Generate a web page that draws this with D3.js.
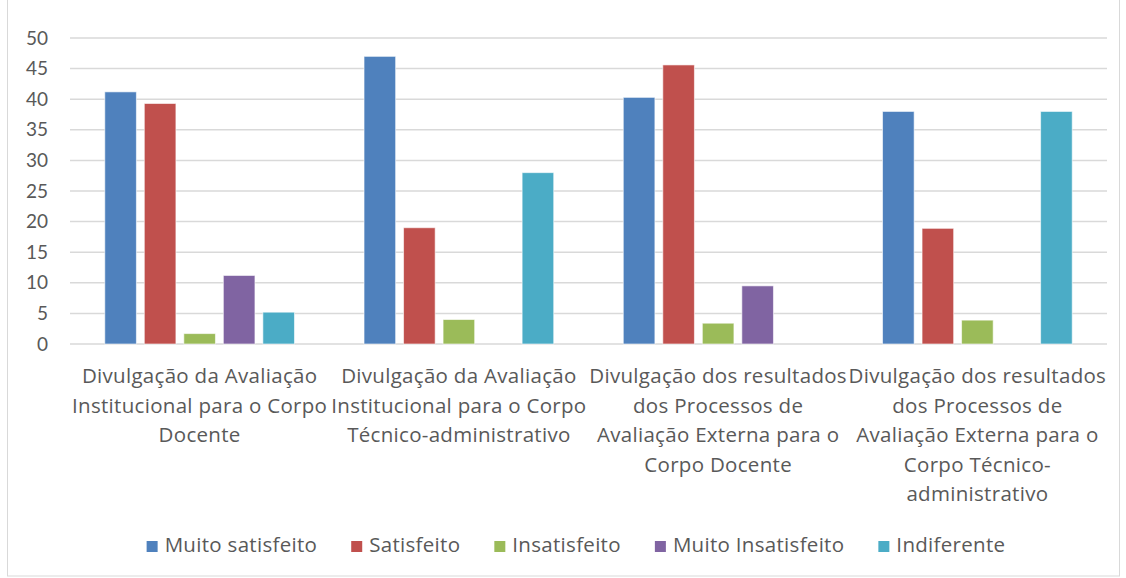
<!DOCTYPE html>
<html>
<head>
<meta charset="utf-8">
<script src="https://cdn.jsdelivr.net/npm/d3@7"></script>
<style>
  body { margin: 0; background: #fff; }
  text { font-family: "Open Sans", Lato, sans-serif; fill: #595959; }
</style>
</head>
<body>
<div id="chart"></div>
<script>
// data
var categories = [
  "Divulgação da Avaliação Institucional para o Corpo Docente",
  "Divulgação da Avaliação Institucional para o Corpo Técnico-administrativo",
  "Divulgação dos resultados dos Processos de Avaliação Externa para o Corpo Docente",
  "Divulgação dos resultados dos Processos de Avaliação Externa para o Corpo Técnico-administrativo"
];
var categoryLines = [
  ["Divulgação da Avaliação", "Institucional para o Corpo", "Docente"],
  ["Divulgação da Avaliação", "Institucional para o Corpo", "Técnico-administrativo"],
  ["Divulgação dos resultados", "dos Processos de", "Avaliação Externa para o", "Corpo Docente"],
  ["Divulgação dos resultados", "dos Processos de", "Avaliação Externa para o", "Corpo Técnico-", "administrativo"]
];
var seriesNames = ["Muito satisfeito", "Satisfeito", "Insatisfeito", "Muito Insatisfeito", "Indiferente"];
var muitoSatisfeito   = [41.2, 47.0, 40.3, 38.0];
var satisfeito        = [39.3, 19.0, 45.6, 18.9];
var insatisfeito      = [1.7, 4.0, 3.4, 3.9];
var muitoInsatisfeito = [11.2, 0, 9.5, 0];
var indiferente       = [5.2, 28.0, 0, 38.0];
var yTicks = [0, 5, 10, 15, 20, 25, 30, 35, 40, 45, 50];
var colors = ["#4F81BD", "#C0504D", "#9BBB59", "#8064A2", "#4BACC6"];

var seriesValues = [muitoSatisfeito, satisfeito, insatisfeito, muitoInsatisfeito, indiferente];

var W = 1126, H = 578;
var margin = {top: 38, right: 19, bottom: 234, left: 70},
    width = W - margin.left - margin.right,
    height = H - margin.top - margin.bottom;

var root = d3.select("#chart").append("svg")
    .attr("width", W)
    .attr("height", H);

// outer chart border
root.append("rect")
    .attr("x", 7.5).attr("y", -1)
    .attr("width", 1112).attr("height", 577)
    .attr("fill", "none")
    .attr("stroke", "#d9d9d9");

var svg = root.append("g")
    .attr("transform", "translate(" + margin.left + "," + margin.top + ")");

// scales
var x0 = d3.scaleBand()
    .domain(categories)
    .range([0, width])
    .padding(0);

var x1 = d3.scaleBand()
    .domain(seriesNames)
    .range([0, x0.bandwidth()])
    .paddingInner(0.2)
    .paddingOuter(0.88);

var y = d3.scaleLinear()
    .domain([0, 50])
    .range([height, 0]);

// gridlines
svg.selectAll(".grid")
  .data(yTicks)
  .enter()
  .append("line")
    .attr("x1", 0).attr("x2", width)
    .attr("y1", function(d) { return y(d); })
    .attr("y2", function(d) { return y(d); })
    .attr("stroke", "#d9d9d9")
    .attr("stroke-width", 1.5);

// y axis labels
var yAxis = svg.append("g")
    .call(d3.axisLeft(y).tickValues(yTicks).tickSize(0).tickPadding(22));
yAxis.select(".domain").remove();
yAxis.selectAll("text")
    .style("font-size", "19px")
    .style("fill", "#595959")
    .style("font-family", "Lato, sans-serif");

// bars
var groups = svg.selectAll(".cat")
  .data(categories)
  .enter()
  .append("g")
    .attr("transform", function(d) { return "translate(" + x0(d) + ",0)"; });

groups.selectAll("rect")
  .data(function(d, i) {
    return seriesNames.map(function(s, j) { return {series: s, value: seriesValues[j][i], color: colors[j]}; });
  })
  .enter()
  .append("rect")
    .attr("x", function(d) { return x1(d.series); })
    .attr("y", function(d) { return y(d.value); })
    .attr("width", x1.bandwidth())
    .attr("height", function(d) { return height - y(d.value); })
    .attr("fill", function(d) { return d.color; })
    .attr("stroke", function(d) { return d.value > 0 ? "#ffffff" : "none"; })
    .attr("stroke-opacity", 0.6)
    .attr("stroke-width", 1);

// category labels
categories.forEach(function(c, i) {
  var t = svg.append("text")
      .attr("x", x0(c) + x0.bandwidth() / 2)
      .attr("y", height + 39)
      .attr("text-anchor", "middle")
      .style("font-size", "20.5px")
      .style("letter-spacing", "0.3px");
  categoryLines[i].forEach(function(line, k) {
    t.append("tspan")
      .attr("x", x0(c) + x0.bandwidth() / 2)
      .attr("dy", k === 0 ? 0 : 29.5)
      .text(line);
  });
});

// legend
var legend = root.append("g");
var lx = 0;
seriesNames.forEach(function(s, i) {
  var item = legend.append("g").attr("transform", "translate(" + lx + ",0)");
  item.append("rect")
      .attr("x", 0).attr("y", -11)
      .attr("width", 11).attr("height", 11)
      .attr("fill", colors[i]);
  var t = item.append("text")
      .attr("x", 18).attr("y", 0)
      .style("font-size", "20.5px")
      .style("letter-spacing", "0.3px")
      .text(s);
  lx += 18 + t.node().getComputedTextLength() + 34;
});
var legendWidth = lx - 34;
legend.attr("transform", "translate(" + (576 - legendWidth / 2) + ",552)");
</script>
</body>
</html>
